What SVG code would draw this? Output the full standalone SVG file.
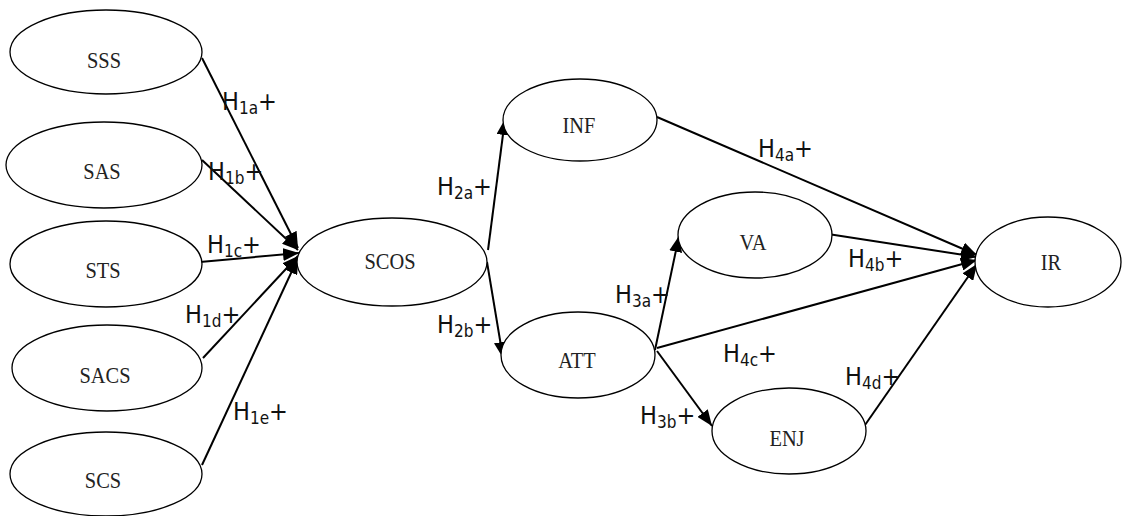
<svg xmlns="http://www.w3.org/2000/svg" width="1122" height="516" viewBox="0 0 1122 516">
<style>
.node ellipse{fill:#fff;stroke:#000;stroke-width:1.3}
.node text{font-family:"Liberation Serif","Times New Roman",serif;font-size:24px;text-anchor:middle;fill:#222}
.conn line{stroke:#000;stroke-width:2}
.lbl{font-family:"Liberation Sans Narrow","DejaVu Sans Condensed","Liberation Sans",sans-serif;font-size:25px;fill:#111}
.lbl .s{font-size:17px}
</style>
<defs>
<marker id="ah" markerUnits="userSpaceOnUse" markerWidth="17" markerHeight="13" refX="16" refY="6.5" orient="auto">
<path d="M0,0 L16,6.5 L0,13 Z" fill="#000"/>
</marker>
</defs>
<rect width="1122" height="516" fill="#fff"/>
<g class="conn">
<line x1="202" y1="58" x2="298" y2="248" marker-end="url(#ah)"/>
<line x1="202" y1="160" x2="298" y2="250" marker-end="url(#ah)"/>
<line x1="200" y1="262" x2="299" y2="253" marker-end="url(#ah)"/>
<line x1="203" y1="358" x2="298" y2="256" marker-end="url(#ah)"/>
<line x1="202" y1="465" x2="298" y2="258" marker-end="url(#ah)"/>
<line x1="488" y1="250" x2="505" y2="119" marker-end="url(#ah)"/>
<line x1="487" y1="262" x2="503" y2="358" marker-end="url(#ah)"/>
<line x1="655" y1="350" x2="679" y2="236" marker-end="url(#ah)"/>
<line x1="657" y1="351" x2="712" y2="426" marker-end="url(#ah)"/>
<line x1="657" y1="348" x2="977" y2="260" marker-end="url(#ah)"/>
<line x1="657" y1="117" x2="977" y2="255" marker-end="url(#ah)"/>
<line x1="828" y1="234" x2="977" y2="257" marker-end="url(#ah)"/>
<line x1="865" y1="425" x2="977" y2="264" marker-end="url(#ah)"/>
</g>
<g id="SSS" class="node"><ellipse cx="106" cy="52" rx="96" ry="42"/><text transform="translate(104,68) scale(0.85,1)">SSS</text></g>
<g id="SAS" class="node"><ellipse cx="104" cy="165" rx="98" ry="43"/><text transform="translate(102,179) scale(0.85,1)">SAS</text></g>
<g id="STS" class="node"><ellipse cx="106" cy="264" rx="96" ry="43"/><text transform="translate(103,278) scale(0.85,1)">STS</text></g>
<g id="SACS" class="node"><ellipse cx="107" cy="368" rx="95" ry="43"/><text transform="translate(105,383) scale(0.85,1)">SACS</text></g>
<g id="SCS" class="node"><ellipse cx="106" cy="474" rx="96" ry="42"/><text transform="translate(103,488) scale(0.85,1)">SCS</text></g>
<g id="SCOS" class="node"><ellipse cx="392" cy="262" rx="95" ry="44"/><text transform="translate(390,269) scale(0.85,1)">SCOS</text></g>
<g id="INF" class="node"><ellipse cx="580" cy="120" rx="77" ry="41"/><text transform="translate(579,133) scale(0.85,1)">INF</text></g>
<g id="ATT" class="node"><ellipse cx="578" cy="355" rx="77" ry="43"/><text transform="translate(577,368) scale(0.85,1)">ATT</text></g>
<g id="VA" class="node"><ellipse cx="755" cy="235" rx="77" ry="43"/><text transform="translate(753,250) scale(0.85,1)">VA</text></g>
<g id="ENJ" class="node"><ellipse cx="789" cy="431" rx="77" ry="43"/><text transform="translate(787,446) scale(0.85,1)">ENJ</text></g>
<g id="IR" class="node"><ellipse cx="1048" cy="262" rx="73" ry="45"/><text transform="translate(1051,270) scale(0.85,1)">IR</text></g>
<g id="labels">
<text class="lbl" x="222" y="110">H<tspan class="s" dy="4">1a</tspan><tspan dy="-4">+</tspan></text>
<text class="lbl" x="208" y="180">H<tspan class="s" dy="4">1b</tspan><tspan dy="-4">+</tspan></text>
<text class="lbl" x="207" y="253">H<tspan class="s" dy="4">1c</tspan><tspan dy="-4">+</tspan></text>
<text class="lbl" x="185" y="323">H<tspan class="s" dy="4">1d</tspan><tspan dy="-4">+</tspan></text>
<text class="lbl" x="233" y="420">H<tspan class="s" dy="4">1e</tspan><tspan dy="-4">+</tspan></text>
<text class="lbl" x="437" y="195">H<tspan class="s" dy="4">2a</tspan><tspan dy="-4">+</tspan></text>
<text class="lbl" x="437" y="333">H<tspan class="s" dy="4">2b</tspan><tspan dy="-4">+</tspan></text>
<text class="lbl" x="615" y="303">H<tspan class="s" dy="4">3a</tspan><tspan dy="-4">+</tspan></text>
<text class="lbl" x="640" y="424">H<tspan class="s" dy="4">3b</tspan><tspan dy="-4">+</tspan></text>
<text class="lbl" x="758" y="157">H<tspan class="s" dy="4">4a</tspan><tspan dy="-4">+</tspan></text>
<text class="lbl" x="848" y="267">H<tspan class="s" dy="4">4b</tspan><tspan dy="-4">+</tspan></text>
<text class="lbl" x="723" y="362">H<tspan class="s" dy="4">4c</tspan><tspan dy="-4">+</tspan></text>
<text class="lbl" x="845" y="385">H<tspan class="s" dy="4">4d</tspan><tspan dy="-4">+</tspan></text>
</g>
</svg>
